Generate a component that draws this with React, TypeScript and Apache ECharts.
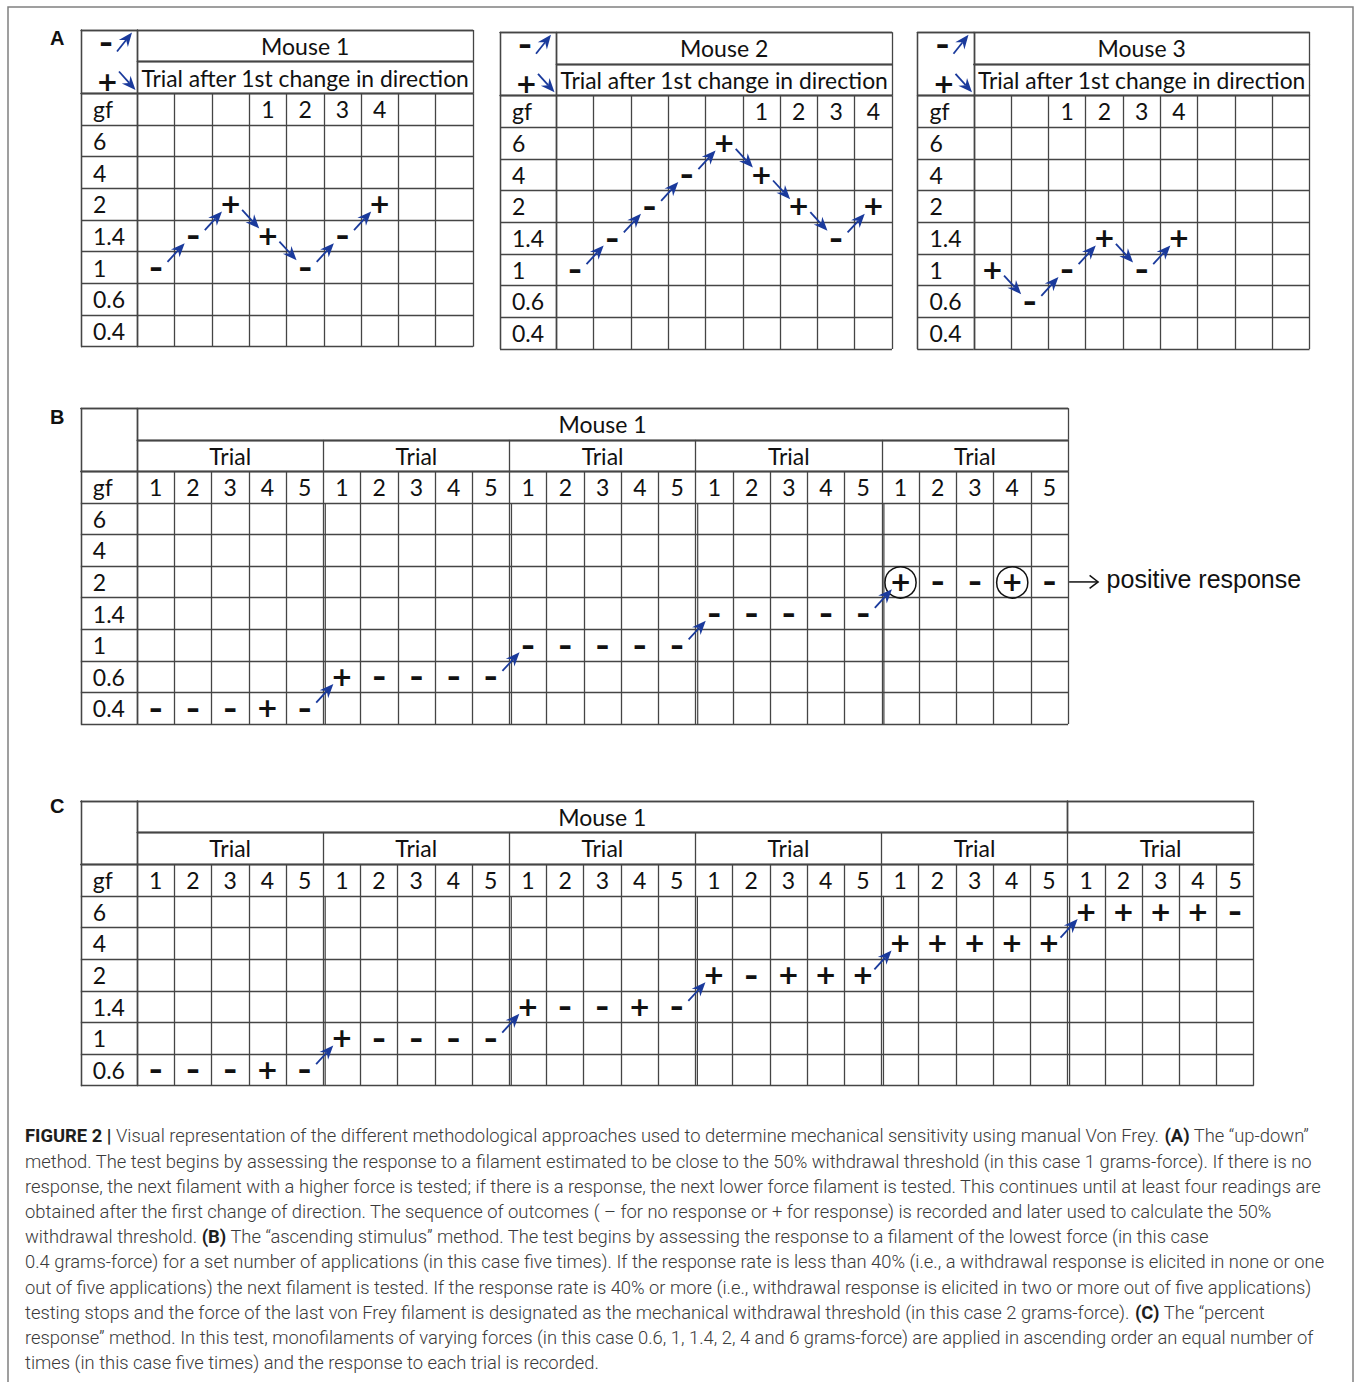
import React, { useEffect, useRef } from 'react';
import * as echarts from 'echarts';

// ---------------- data ----------------
const GF_LABEL = 'gf';
const A_FORCES = ['0.4', '0.6', '1', '1.4', '2', '4', '6'];
const A_TITLES = ['Mouse 1', 'Mouse 2', 'Mouse 3'];
const A_SUBTITLE = 'Trial after 1st change in direction';
const A_TRIAL_TICKS = [
  ['', '', '', '1', '2', '3', '4', '', ''],
  ['', '', '', '', '', '1', '2', '3', '4'],
  ['', '', '1', '2', '3', '4', '', '', ''],
];
const A_LEVELS = [
  ['1', '1.4', '2', '1.4', '1', '1.4', '2'],
  ['1', '1.4', '2', '4', '6', '4', '2', '1.4', '2'],
  ['1', '0.6', '1', '1.4', '1', '1.4'],
];
const A_OUTCOMES = [
  ['-', '-', '+', '+', '-', '-', '+'],
  ['-', '-', '-', '-', '+', '+', '+', '-', '+'],
  ['+', '-', '-', '+', '-', '+'],
];
const LEGEND_SIGNS = ['-', '+'];

const B_FORCES = ['0.4', '0.6', '1', '1.4', '2', '4', '6'];
const B_TITLE = 'Mouse 1';
const B_GROUP_FORCES = ['0.4', '0.6', '1', '1.4', '2'];
const B_OUTCOMES = [
  ['-', '-', '-', '+', '-'],
  ['+', '-', '-', '-', '-'],
  ['-', '-', '-', '-', '-'],
  ['-', '-', '-', '-', '-'],
  ['+', '-', '-', '+', '-'],
];
const B_CIRCLED = [[4, 0], [4, 3]];
const B_NOTE = 'positive response';

const C_FORCES = ['0.6', '1', '1.4', '2', '4', '6'];
const C_TITLE = 'Mouse 1';
const C_GROUP_FORCES = ['0.6', '1', '1.4', '2', '4', '6'];
const C_OUTCOMES = [
  ['-', '-', '-', '+', '-'],
  ['+', '-', '-', '-', '-'],
  ['+', '-', '-', '+', '-'],
  ['+', '-', '+', '+', '+'],
  ['+', '+', '+', '+', '+'],
  ['+', '+', '+', '+', '-'],
];
const TRIAL_TICKS = ['1', '2', '3', '4', '5'];
const GROUP_HEADER = 'Trial';
const PANEL_LETTERS = ['A', 'B', 'C'];

const CAPTION_LINES = [
  '{b|FIGURE 2 |} Visual representation of the different methodological approaches used to determine mechanical sensitivity using manual Von Frey. {b|(A)} The “up-down”',
  'method. The test begins by assessing the response to a filament estimated to be close to the 50% withdrawal threshold (in this case 1 grams-force). If there is no',
  'response, the next filament with a higher force is tested; if there is a response, the next lower force filament is tested. This continues until at least four readings are',
  'obtained after the first change of direction. The sequence of outcomes ( – for no response or + for response) is recorded and later used to calculate the 50%',
  'withdrawal threshold. {b|(B)} The “ascending stimulus” method. The test begins by assessing the response to a filament of the lowest force (in this case',
  '0.4 grams-force) for a set number of applications (in this case five times). If the response rate is less than 40% (i.e., a withdrawal response is elicited in none or one',
  'out of five applications) the next filament is tested. If the response rate is 40% or more (i.e., withdrawal response is elicited in two or more out of five applications)',
  'testing stops and the force of the last von Frey filament is designated as the mechanical withdrawal threshold (in this case 2 grams-force). {b|(C)} The “percent',
  'response” method. In this test, monofilaments of varying forces (in this case 0.6, 1, 1.4, 2, 4 and 6 grams-force) are applied in ascending order an equal number of',
  'times (in this case five times) and the response to each trial is recorded.',
];

// ---------------- layout / style ----------------
const W = 1356;
const H = 1382;
const LINE_COLOR = '#454545';
const LINE_W = 1.3;
const ARROW_COLOR = '#1a3a9c';
const TEXT_COLOR = '#111';
const TABLE_FONT = 'Lato, "Open Sans", sans-serif';
const TABLE_FS = 23;
const SIGN_FONT = '"DejaVu Sans", sans-serif';
const LAB_W = 56.3;
const A_POS = [
  { l: 81, t: 30 },
  { l: 500, t: 32.3 },
  { l: 917.5, t: 32.3 },
];
const A_CW = 37.3;
const A_RH = 31.67;
const B_POS = { l: 80.8, t: 408.3 };
const B_CW = 37.24;
const B_RH = 31.57;
const C_POS = { l: 80.8, t: 801 };
const C_CW = 37.22;
const C_RH = 31.63;
const CAP_X = 25;
const CAP_Y0 = 1136;
const CAP_DY = 25.2;
const CAP_FS = 18;
const CAP_FONT = 'Roboto, "Liberation Sans", sans-serif';
const CAP_TARGET_W = 1284;

function measure(text: string, font: string): number {
  const c = document.createElement('canvas').getContext('2d');
  if (!c) return text.length * 9;
  c.font = font;
  return c.measureText(text).width;
}

function signText(x: number, y: number, s: string): any {
  const plus = s === '+';
  return {
    type: 'text',
    x,
    y: plus ? y : y + 0.5,
    scaleX: plus ? 1 : 1.3,
    silent: true,
    style: {
      text: plus ? '+' : '-',
      fontFamily: SIGN_FONT,
      fontWeight: 'bold',
      fontSize: 26,
      fill: TEXT_COLOR,
      align: 'center',
      verticalAlign: 'middle',
    },
  };
}

function arrowShape(tail: number[], tip: number[], color: string): any {
  const vx = tip[0] - tail[0];
  const vy = tip[1] - tail[1];
  const len = Math.hypot(vx, vy) || 1;
  const ux = vx / len;
  const uy = vy / len;
  const nx = -uy;
  const ny = ux;
  const L = 14;
  const Wd = 5.8;
  const notch = 9.5;
  const base = [tip[0] - ux * L, tip[1] - uy * L];
  const inner = [tip[0] - ux * notch, tip[1] - uy * notch];
  return {
    type: 'group',
    silent: true,
    children: [
      {
        type: 'line',
        shape: { x1: tail[0], y1: tail[1], x2: inner[0], y2: inner[1] },
        style: { stroke: color, lineWidth: 1.8 },
      },
      {
        type: 'polygon',
        shape: {
          points: [
            [tip[0], tip[1]],
            [base[0] + nx * Wd, base[1] + ny * Wd],
            inner,
            [base[0] - nx * Wd, base[1] - ny * Wd],
          ],
        },
        style: { fill: color },
      },
    ],
  };
}

function buildOption(): any {
  const grid: any[] = [];
  const xAxis: any[] = [];
  const yAxis: any[] = [];
  const series: any[] = [];
  const graphic: any[] = [];
  const line = { color: LINE_COLOR, width: LINE_W };

  const addGrid = (left: number, top: number, width: number, height: number, nX: number, yCats: string[], o: any = {}) => {
    const gi = grid.length;
    grid.push({ left, top, width, height, containLabel: false, outerBoundsMode: 'none', show: false });
    xAxis.push({
      type: 'category',
      gridIndex: gi,
      position: 'top',
      boundaryGap: true,
      data: Array.from({ length: nX }, (_, i) => 'x' + i),
      axisLine: { show: true, lineStyle: line },
      axisTick: { show: false },
      splitLine: { show: true, interval: 0, lineStyle: line },
      axisPointer: { show: false },
      axisLabel: o.xLabels
        ? {
            show: true,
            inside: true,
            interval: 0,
            margin: o.rh / 2,
            verticalAlign: 'middle',
            align: 'center',
            fontFamily: TABLE_FONT,
            fontSize: o.fs || TABLE_FS,
            color: TEXT_COLOR,
            formatter: (_v: any, i: number) => o.xLabels[i],
          }
        : { show: false },
    });
    yAxis.push({
      type: 'category',
      gridIndex: gi,
      position: 'left',
      boundaryGap: true,
      data: yCats.map((_, i) => 'y' + i),
      axisLine: { show: true, lineStyle: line },
      axisTick: { show: false },
      splitLine: { show: true, interval: 0, lineStyle: line },
      axisPointer: { show: false },
      axisLabel: o.yLabels
        ? {
            show: true,
            inside: true,
            interval: 0,
            margin: 12,
            align: 'left',
            verticalAlign: 'middle',
            fontFamily: TABLE_FONT,
            fontSize: TABLE_FS,
            color: TEXT_COLOR,
            formatter: (_v: any, i: number) => o.yLabels[i],
          }
        : { show: false },
    });
    return gi;
  };

  const signSeries = (gi: number, data: number[][]) => ({
    type: 'custom',
    coordinateSystem: 'cartesian2d',
    xAxisIndex: gi,
    yAxisIndex: gi,
    silent: true,
    z: 5,
    data,
    renderItem: (_p: any, api: any) => {
      const p = api.coord([api.value(0), api.value(1)]);
      const children: any[] = [signText(p[0], p[1], api.value(2) === 1 ? '+' : '-')];
      if (api.value(3) === 1) {
        children.push({
          type: 'circle',
          shape: { cx: p[0], cy: p[1] + 0.5, r: 15.6 },
          style: { fill: 'none', stroke: '#111', lineWidth: 1.5 },
        });
      }
      return { type: 'group', children };
    },
  });

  const arrowSeries = (gi: number, data: number[][]) => ({
    type: 'custom',
    coordinateSystem: 'cartesian2d',
    xAxisIndex: gi,
    yAxisIndex: gi,
    silent: true,
    z: 6,
    data,
    renderItem: (_p: any, api: any) => {
      const a = api.coord([api.value(0), api.value(1)]);
      const b = api.coord([api.value(2), api.value(3)]);
      const dx = b[0] - a[0];
      const dy = b[1] - a[1];
      const tail = [a[0] + 0.31 * dx, a[1] + 0.18 * dy];
      const tip = [a[0] + 0.77 * dx, a[1] + 0.77 * dy];
      return arrowShape(tail, tip, ARROW_COLOR);
    },
  });

  const doubleLineSeries = (gi: number, boundaries: number[], nRows: number) => ({
    type: 'custom',
    coordinateSystem: 'cartesian2d',
    xAxisIndex: gi,
    yAxisIndex: gi,
    silent: true,
    z: 3,
    data: boundaries.map((b) => [b, 0]),
    renderItem: (_p: any, api: any) => {
      const b = api.value(0);
      const sz = api.size([1, 1]);
      const cb = api.coord([b, 0]);
      const ct = api.coord([b, nRows - 2]);
      const x = cb[0] - sz[0] / 2 + 2;
      return {
        type: 'line',
        shape: { x1: x, y1: ct[1] - sz[1] / 2, x2: x, y2: cb[1] + sz[1] / 2 },
        style: { stroke: LINE_COLOR, lineWidth: 1.2 },
      };
    },
  });

  // ---------- Panel A ----------
  const subW = measure(A_SUBTITLE, `${TABLE_FS}px Lato`);
  const subFs = Math.min(TABLE_FS, (TABLE_FS * 328) / subW);
  A_TITLES.forEach((title, k) => {
    const { l, t } = A_POS[k];
    const ticks = A_TRIAL_TICKS[k];
    const n = ticks.length;
    const rows = [...A_FORCES, GF_LABEL];
    addGrid(l, t, LAB_W, 2 * A_RH, 1, ['']);
    addGrid(l + LAB_W, t, n * A_CW, A_RH, 1, [''], { xLabels: [title], rh: A_RH });
    addGrid(l + LAB_W, t + A_RH, n * A_CW, A_RH, 1, [''], { xLabels: [A_SUBTITLE], rh: A_RH, fs: subFs });
    addGrid(l, t + 2 * A_RH, LAB_W, rows.length * A_RH, 1, rows, { yLabels: rows });
    const gi = addGrid(l + LAB_W, t + 2 * A_RH, n * A_CW, rows.length * A_RH, n, rows, { xLabels: ticks, rh: A_RH });
    const pts = A_LEVELS[k].map((f, i) => [i, rows.indexOf(f)]);
    series.push(signSeries(gi, pts.map((p, i) => [p[0], p[1], A_OUTCOMES[k][i] === '+' ? 1 : 0, 0])));
    series.push(arrowSeries(gi, pts.slice(1).map((p, i) => [pts[i][0], pts[i][1], p[0], p[1]])));
    graphic.push(signText(l + 25, t + 12, LEGEND_SIGNS[0]));
    graphic.push(arrowShape([l + 36, t + 21.5], [l + 51, t + 2.5], ARROW_COLOR));
    graphic.push(signText(l + 26.5, t + 51.5, LEGEND_SIGNS[1]));
    graphic.push(arrowShape([l + 38, t + 41.5], [l + 54.5, t + 60], ARROW_COLOR));
  });

  // ---------- Panel B ----------
  {
    const { l, t } = B_POS;
    const G = B_GROUP_FORCES.length;
    const per = TRIAL_TICKS.length;
    const n = G * per;
    const rows = [...B_FORCES, GF_LABEL];
    addGrid(l, t, LAB_W, 2 * B_RH, 1, ['']);
    addGrid(l + LAB_W, t, n * B_CW, B_RH, 1, [''], { xLabels: [B_TITLE], rh: B_RH });
    addGrid(l + LAB_W, t + B_RH, n * B_CW, B_RH, G, [''], { xLabels: B_GROUP_FORCES.map(() => GROUP_HEADER), rh: B_RH });
    addGrid(l, t + 2 * B_RH, LAB_W, rows.length * B_RH, 1, rows, { yLabels: rows });
    const gi = addGrid(l + LAB_W, t + 2 * B_RH, n * B_CW, rows.length * B_RH, n, rows, {
      xLabels: B_GROUP_FORCES.flatMap(() => TRIAL_TICKS),
      rh: B_RH,
    });
    series.push(doubleLineSeries(gi, B_GROUP_FORCES.slice(1).map((_, g) => (g + 1) * per), rows.length));
    const data: number[][] = [];
    B_OUTCOMES.forEach((grp, g) =>
      grp.forEach((s, tr) => {
        const circ = B_CIRCLED.some((c) => c[0] === g && c[1] === tr) ? 1 : 0;
        data.push([g * per + tr, rows.indexOf(B_GROUP_FORCES[g]), s === '+' ? 1 : 0, circ]);
      })
    );
    series.push(signSeries(gi, data));
    series.push(
      arrowSeries(
        gi,
        B_GROUP_FORCES.slice(1).map((f, g) => [g * per + per - 1, rows.indexOf(B_GROUP_FORCES[g]), (g + 1) * per, rows.indexOf(f)])
      )
    );
    // note arrow
    const idx = rows.indexOf(B_GROUP_FORCES[G - 1]);
    const y = t + 2 * B_RH + (rows.length - 1 - idx + 0.5) * B_RH;
    const x = l + LAB_W + n * B_CW;
    graphic.push({
      type: 'line',
      silent: true,
      shape: { x1: x + 1, y1: y, x2: x + 30, y2: y },
      style: { stroke: '#111', lineWidth: 1.5 },
    });
    graphic.push({
      type: 'polyline',
      silent: true,
      shape: { points: [[x + 21.5, y - 6.5], [x + 30, y], [x + 21.5, y + 6.5]] },
      style: { stroke: '#111', lineWidth: 1.5, fill: 'none' },
    });
    graphic.push({
      type: 'text',
      silent: true,
      x: x + 38.5,
      y: y - 2.5,
      style: {
        text: B_NOTE,
        fontFamily: '"Liberation Sans", Arial, sans-serif',
        fontSize: 25,
        fill: '#111',
        align: 'left',
        verticalAlign: 'middle',
      },
    });
  }

  // ---------- Panel C ----------
  {
    const { l, t } = C_POS;
    const G = C_GROUP_FORCES.length;
    const per = TRIAL_TICKS.length;
    const n = G * per;
    const rows = [...C_FORCES, GF_LABEL];
    addGrid(l, t, LAB_W, 2 * C_RH, 1, ['']);
    addGrid(l + LAB_W, t, (G - 1) * per * C_CW, C_RH, 1, [''], { xLabels: [C_TITLE], rh: C_RH });
    addGrid(l + LAB_W + (G - 1) * per * C_CW, t, per * C_CW, C_RH, 1, ['']);
    addGrid(l + LAB_W, t + C_RH, n * C_CW, C_RH, G, [''], { xLabels: C_GROUP_FORCES.map(() => GROUP_HEADER), rh: C_RH });
    addGrid(l, t + 2 * C_RH, LAB_W, rows.length * C_RH, 1, rows, { yLabels: rows });
    const gi = addGrid(l + LAB_W, t + 2 * C_RH, n * C_CW, rows.length * C_RH, n, rows, {
      xLabels: C_GROUP_FORCES.flatMap(() => TRIAL_TICKS),
      rh: C_RH,
    });
    series.push(doubleLineSeries(gi, C_GROUP_FORCES.slice(1).map((_, g) => (g + 1) * per), rows.length));
    const data: number[][] = [];
    C_OUTCOMES.forEach((grp, g) =>
      grp.forEach((s, tr) => {
        data.push([g * per + tr, rows.indexOf(C_GROUP_FORCES[g]), s === '+' ? 1 : 0, 0]);
      })
    );
    series.push(signSeries(gi, data));
    series.push(
      arrowSeries(
        gi,
        C_GROUP_FORCES.slice(1).map((f, g) => [g * per + per - 1, rows.indexOf(C_GROUP_FORCES[g]), (g + 1) * per, rows.indexOf(f)])
      )
    );
  }

  // ---------- frame, letters ----------
  graphic.push({
    type: 'rect',
    silent: true,
    z: -10,
    shape: { x: 8, y: 7, width: 1345, height: 1420 },
    style: { fill: 'none', stroke: '#808080', lineWidth: 1.5 },
  });
  const letterY = [38, 417, 806];
  PANEL_LETTERS.forEach((L, i) => {
    graphic.push({
      type: 'text',
      silent: true,
      x: 50,
      y: letterY[i],
      style: {
        text: L,
        fontFamily: '"Liberation Sans", Arial, sans-serif',
        fontWeight: 'bold',
        fontSize: 20,
        fill: '#111',
        align: 'left',
        verticalAlign: 'middle',
      },
    });
  });

  // ---------- caption ----------
  const first = CAPTION_LINES[0];
  const boldPart = 'FIGURE 2 |';
  const rest = first.replace(/\{b\|([^}]*)\}/g, '$1').slice(boldPart.length);
  const w1 =
    measure(boldPart, `bold ${CAP_FS}px Roboto`) +
    measure(rest.replace('(A)', ''), `300 ${CAP_FS}px Roboto`) +
    measure('(A)', `bold ${CAP_FS}px Roboto`);
  const sx = CAP_TARGET_W / w1;
  CAPTION_LINES.forEach((txt, i) => {
    graphic.push({
      type: 'text',
      silent: true,
      x: CAP_X,
      y: CAP_Y0 + i * CAP_DY,
      scaleX: sx,
      style: {
        text: txt,
        fontFamily: CAP_FONT,
        fontSize: CAP_FS,
        fontWeight: 300,
        fill: '#3a3a3a',
        align: 'left',
        verticalAlign: 'middle',
        rich: {
          b: { fontFamily: CAP_FONT, fontSize: CAP_FS, fontWeight: 'bold', fill: '#1e1e1e' },
        },
      },
    });
  });

  return {
    animation: false,
    backgroundColor: '#ffffff',
    tooltip: { show: false },
    grid,
    xAxis,
    yAxis,
    series,
    graphic: { elements: graphic },
  };
}

export default function App() {
  const ref = useRef<HTMLDivElement>(null);
  useEffect(() => {
    document.body.style.margin = '0';
    document.body.style.overflow = 'hidden';
    if (!ref.current) return;
    const chart = echarts.init(ref.current, null, { renderer: 'svg' });
    chart.setOption(buildOption());
    return () => chart.dispose();
  }, []);
  return <div ref={ref} style={{ width: W, height: H }} />;
}
